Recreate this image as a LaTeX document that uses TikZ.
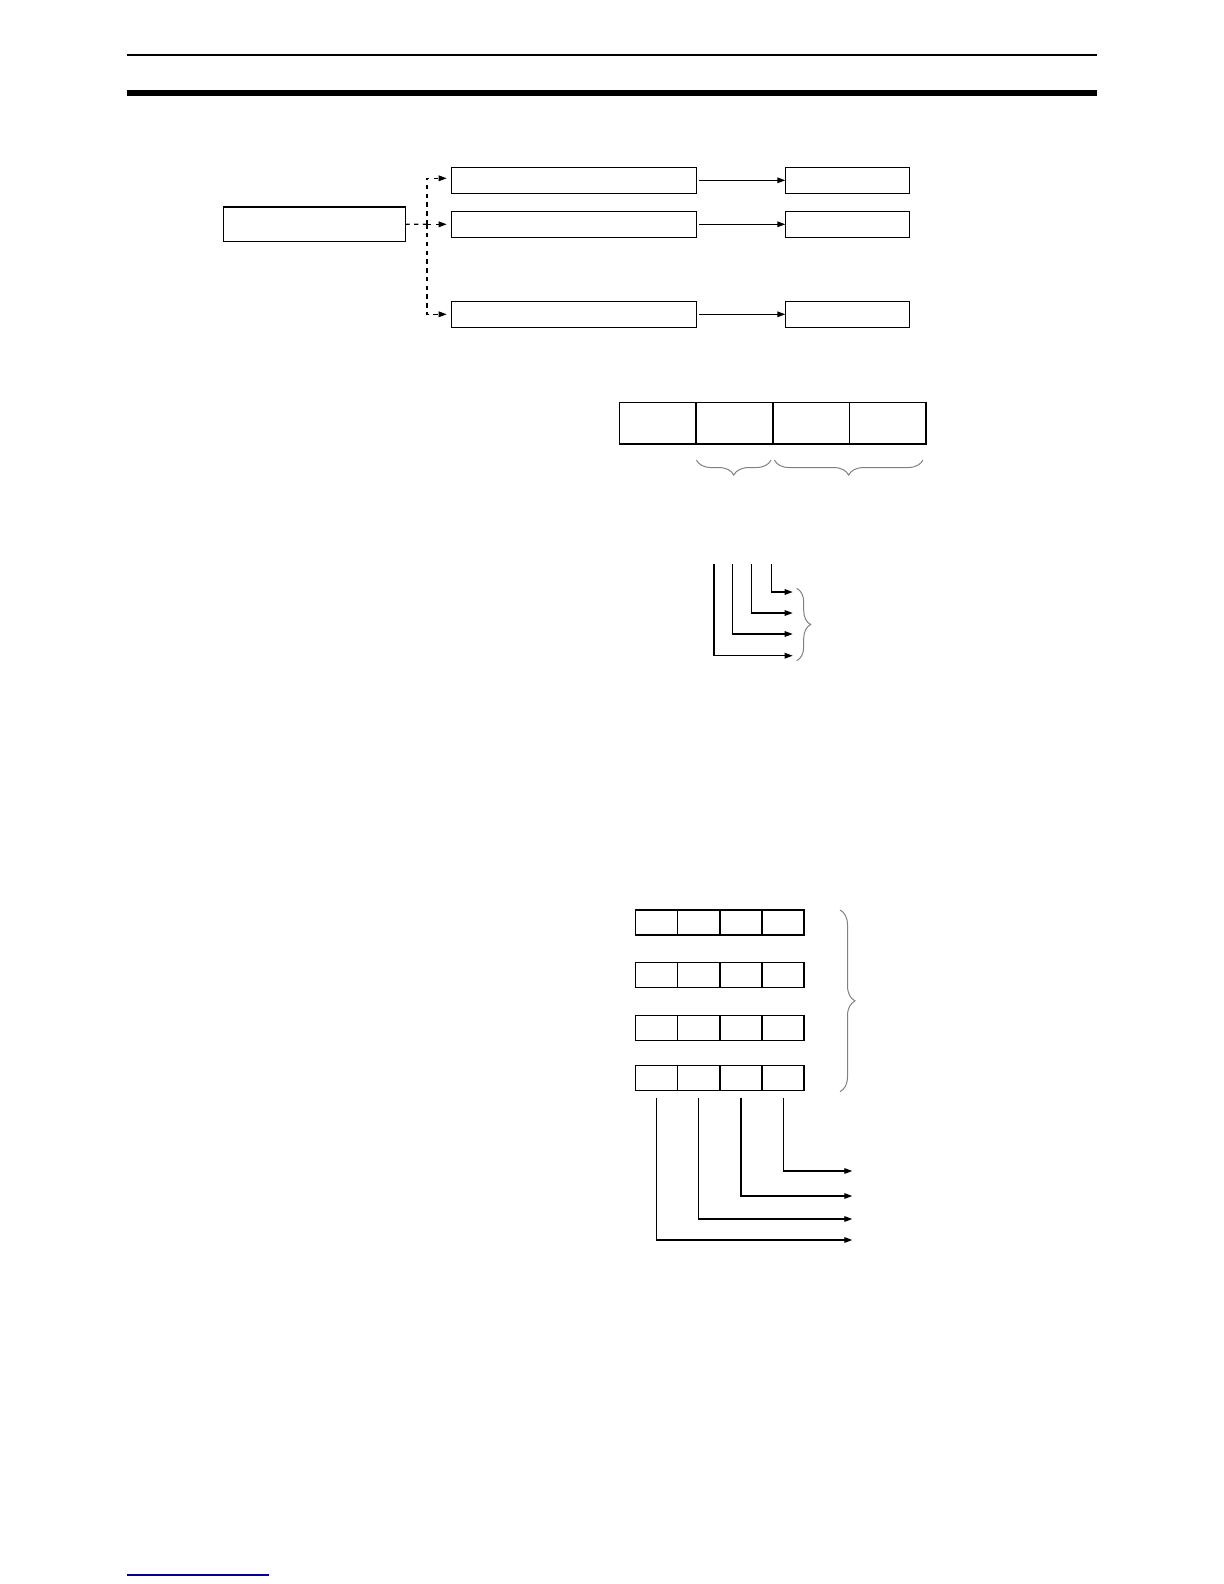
\documentclass[tikz,border=0pt]{standalone}
\usetikzlibrary{arrows.meta,decorations.pathreplacing}
\tikzset{
    box/.style 2 args={draw,line width=0.8pt,minimum width=#1,minimum height=#2,inner sep=0pt,outer sep=0pt},
    cell/.style={box={21.1bp}{12.5bp}},
    flow/.style={line width=0.6pt,-{Triangle[length=4pt,width=2.8pt]}},
    dashes/.style={line width=0.6pt,dash pattern=on 2.2pt off 2.2pt},
    split/.style={flow,dashes,shorten >=2.3bp},
    bracket/.style={gray,line width=0.5pt,decorate,decoration={brace,amplitude=#1}}
}
\def\rowy{423.2}
\def\tapy{564}

\begin{document}
\begin{tikzpicture}[x=0.5bp,y=-0.5bp]
  \useasboundingbox (0,0) rectangle (1224,1584);

  % Page rules
  \draw[line width=0.6pt] (127,55) -- (1097,55);
  \fill (127,90) rectangle (1097,96);
  \draw[line width=0.6pt,blue!60!black] (127,1575) -- (269,1575);

  % Source and branches
  \node[box={91bp}{17.3bp}] (src) at (314.3,224) {};
  \foreach \i/\y in {1/180.3,2/224.3,3/314.3}{
    \node[box={122.5bp}{13bp}] (mid\i) at (573.8,\y) {};
    \node[box={62bp}{13bp}] (out\i) at (847.3,\y) {};
    \draw[flow,shorten <=1.5bp] (mid\i) -- (out\i);
  }
  \coordinate (fork) at (427,224.3);
  \draw[dashes] (src) -- (fork);
  \draw[split] (fork) -- (mid2);
  \draw[split] (fork) |- ([yshift=1bp]mid1.west);
  \draw[split] (fork) |- (mid3);

  % Word fields
  \foreach \i/\x in {1/657.65,2/734.35,3/811.05,4/887.75}
    \node[box={38.35bp}{20.85bp}] (fld\i) at (\x,\rowy) {};
  \draw[bracket=7.5bp,decoration={mirror}] ([xshift=0.2bp,yshift=-8bp]fld2.south west) -- ([xshift=-0.8bp,yshift=-8bp]fld2.south east);
  \draw[bracket=7.5bp,decoration={mirror}] ([xshift=0.85bp,yshift=-8bp]fld3.south west) -- ([xshift=-1.6bp,yshift=-8bp]fld4.south east);

  % Bit taps
  \foreach \i/\x/\y in {1/714/655.7,2/732.7/634,3/751.7/613,4/771.3/592}{
    \coordinate (tap\i) at (\x,\tapy);
    \coordinate (bit\i) at (792.7,\y);
    \draw[flow] (tap\i) |- (bit\i);
  }
  \draw[bracket=7bp] (796.7,588.3) -- (796.7,660.7);

  % Register block
  \foreach \r/\y in {1/922.5,2/974.8,3/1028,4/1077.8}
    \foreach \c/\x in {1/656.4,2/698.6,3/740.9,4/783.1}
      \node[cell] (reg\r\c) at (\x,\y) {};
  \draw[bracket=7.5bp] (840,910) -- (840,1091.7);
  \foreach \c/\y in {1/1240,2/1219,3/1196,4/1171}{
    \coordinate (res\c) at (852.3,\y);
    \draw[flow] ([yshift=-3.7bp]reg4\c.south) |- (res\c);
  }
\end{tikzpicture}
\end{document}
